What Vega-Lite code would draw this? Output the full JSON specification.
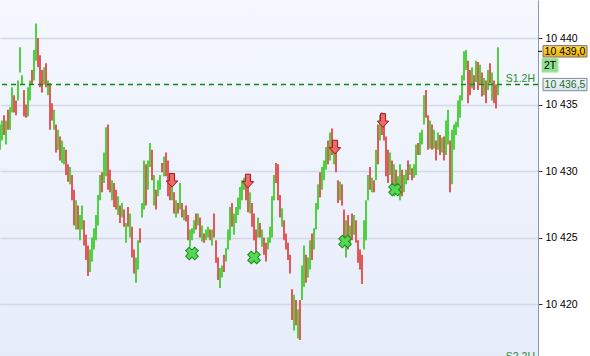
{
 "$schema": "https://vega.github.io/schema/vega-lite/v6.json",
 "width": 538,
 "height": 356,
 "autosize": {"type": "none"},
 "padding": {"left": 0, "top": 0, "right": 52, "bottom": 0},
 "background": "#ffffff",
 "config": {
  "view": {"stroke": null, "fill": {"gradient": "linear", "x1": 0, "y1": 0, "x2": 0, "y2": 1, "stops": [{"offset": 0, "color": "#f5f8fe"}, {"offset": 1, "color": "#e6ecfa"}]}},
  "font": "Liberation Sans"
 },
 "datasets": {
  "bars": [
{"t":0,"h":10433.5,"l":10431.6,"c":"u"},{"t":1,"h":10433.8,"l":10432.3,"c":"u"},{"t":2,"h":10434.2,"l":10432.7,"c":"d"},{"t":3,"h":10433.8,"l":10432.0,"c":"u"},{"t":4,"h":10434.6,"l":10433.1,"c":"d"},{"t":5,"h":10434.8,"l":10433.1,"c":"u"},{"t":6,"h":10436.3,"l":10434.4,"c":"u"},{"t":7,"h":10435.7,"l":10434.4,"c":"d"},{"t":8,"h":10435.3,"l":10434.2,"c":"d"},{"t":9,"h":10436.8,"l":10435.3,"c":"u"},
{"t":10,"h":10439.3,"l":10437.4,"c":"u"},{"t":11,"h":10437.2,"l":10436.5,"c":"u"},{"t":12,"h":10436.1,"l":10434.1,"c":"d"},{"t":13,"h":10435.0,"l":10434.0,"c":"d"},{"t":14,"h":10436.3,"l":10434.1,"c":"u"},{"t":15,"h":10436.8,"l":10435.3,"c":"u"},{"t":16,"h":10437.6,"l":10436.5,"c":"d"},{"t":17,"h":10439.1,"l":10436.8,"c":"u"},{"t":18,"h":10441.1,"l":10438.3,"c":"u"},{"t":19,"h":10440.0,"l":10437.8,"c":"d"},
{"t":20,"h":10438.7,"l":10436.3,"c":"d"},{"t":21,"h":10437.6,"l":10435.9,"c":"d"},{"t":22,"h":10437.8,"l":10436.5,"c":"u"},{"t":23,"h":10438.1,"l":10436.3,"c":"d"},{"t":24,"h":10436.8,"l":10435.7,"c":"u"},{"t":25,"h":10436.6,"l":10433.1,"c":"d"},{"t":26,"h":10435.1,"l":10433.8,"c":"d"},{"t":27,"h":10434.6,"l":10433.1,"c":"u"},{"t":28,"h":10433.5,"l":10431.4,"c":"d"},{"t":29,"h":10433.1,"l":10431.6,"c":"u"},
{"t":30,"h":10432.6,"l":10430.8,"c":"d"},{"t":31,"h":10432.3,"l":10430.6,"c":"u"},{"t":32,"h":10431.8,"l":10430.5,"c":"u"},{"t":33,"h":10431.6,"l":10429.7,"c":"d"},{"t":34,"h":10430.5,"l":10429.2,"c":"d"},{"t":35,"h":10430.3,"l":10429.0,"c":"u"},{"t":36,"h":10429.7,"l":10427.8,"c":"d"},{"t":37,"h":10428.6,"l":10425.9,"c":"d"},{"t":38,"h":10427.8,"l":10425.6,"c":"u"},{"t":39,"h":10427.4,"l":10425.6,"c":"d"},
{"t":40,"h":10426.7,"l":10424.8,"c":"u"},{"t":41,"h":10427.4,"l":10425.6,"c":"u"},{"t":42,"h":10426.3,"l":10424.4,"c":"d"},{"t":43,"h":10425.2,"l":10423.3,"c":"d"},{"t":44,"h":10424.4,"l":10422.1,"c":"d"},{"t":45,"h":10424.1,"l":10422.4,"c":"u"},{"t":46,"h":10425.0,"l":10423.2,"c":"u"},{"t":47,"h":10425.7,"l":10424.1,"c":"u"},{"t":48,"h":10426.7,"l":10424.8,"c":"u"},{"t":49,"h":10428.2,"l":10425.9,"c":"u"},
{"t":50,"h":10429.7,"l":10427.8,"c":"u"},{"t":51,"h":10429.9,"l":10428.4,"c":"d"},{"t":52,"h":10431.4,"l":10429.1,"c":"u"},{"t":53,"h":10433.3,"l":10429.6,"c":"u"},{"t":54,"h":10433.5,"l":10428.6,"c":"d"},{"t":55,"h":10430.1,"l":10428.4,"c":"d"},{"t":56,"h":10429.3,"l":10427.8,"c":"u"},{"t":57,"h":10429.1,"l":10427.3,"c":"d"},{"t":58,"h":10428.6,"l":10427.1,"c":"d"},{"t":59,"h":10428.1,"l":10426.7,"c":"u"},
{"t":60,"h":10427.4,"l":10426.1,"c":"d"},{"t":61,"h":10427.6,"l":10426.5,"c":"u"},{"t":62,"h":10427.1,"l":10425.8,"c":"d"},{"t":63,"h":10426.1,"l":10424.6,"c":"u"},{"t":64,"h":10427.3,"l":10425.8,"c":"d"},{"t":65,"h":10426.8,"l":10425.0,"c":"u"},{"t":66,"h":10425.8,"l":10423.5,"c":"d"},{"t":67,"h":10424.1,"l":10422.3,"c":"d"},{"t":68,"h":10423.5,"l":10421.6,"c":"u"},{"t":69,"h":10424.8,"l":10422.6,"c":"u"},
{"t":70,"h":10425.7,"l":10424.6,"c":"d"},{"t":71,"h":10427.6,"l":10426.5,"c":"u"},{"t":72,"h":10430.8,"l":10427.1,"c":"u"},{"t":73,"h":10430.5,"l":10427.4,"c":"d"},{"t":74,"h":10430.8,"l":10428.6,"c":"u"},{"t":75,"h":10432.1,"l":10430.3,"c":"u"},{"t":76,"h":10431.6,"l":10429.3,"c":"d"},{"t":77,"h":10429.7,"l":10427.4,"c":"u"},{"t":78,"h":10428.6,"l":10427.1,"c":"d"},{"t":79,"h":10429.3,"l":10428.1,"c":"u"},
{"t":80,"h":10429.7,"l":10428.6,"c":"u"},{"t":81,"h":10430.6,"l":10429.9,"c":"d"},{"t":82,"h":10431.1,"l":10429.6,"c":"u"},{"t":83,"h":10431.4,"l":10429.6,"c":"d"},{"t":84,"h":10430.8,"l":10428.1,"c":"d"},{"t":85,"h":10429.6,"l":10427.8,"c":"d"},{"t":86,"h":10429.1,"l":10427.8,"c":"u"},{"t":87,"h":10428.4,"l":10426.8,"c":"d"},{"t":88,"h":10427.8,"l":10426.5,"c":"u"},{"t":89,"h":10427.6,"l":10426.8,"c":"d"},
{"t":90,"h":10429.1,"l":10427.1,"c":"u"},{"t":91,"h":10427.6,"l":10426.5,"c":"d"},{"t":92,"h":10427.1,"l":10426.3,"c":"u"},{"t":93,"h":10427.4,"l":10426.2,"c":"d"},{"t":94,"h":10426.7,"l":10424.8,"c":"d"},{"t":95,"h":10425.6,"l":10424.3,"c":"u"},{"t":96,"h":10425.7,"l":10424.8,"c":"u"},{"t":97,"h":10426.3,"l":10425.3,"c":"u"},{"t":98,"h":10426.8,"l":10425.6,"c":"d"},{"t":99,"h":10426.8,"l":10425.9,"c":"u"},
{"t":100,"h":10426.5,"l":10425.0,"c":"d"},{"t":101,"h":10425.9,"l":10424.7,"c":"u"},{"t":102,"h":10425.3,"l":10424.6,"c":"d"},{"t":103,"h":10425.6,"l":10424.8,"c":"u"},{"t":104,"h":10425.8,"l":10425.0,"c":"u"},{"t":105,"h":10425.6,"l":10424.8,"c":"d"},{"t":106,"h":10425.6,"l":10424.4,"c":"u"},{"t":107,"h":10426.8,"l":10425.0,"c":"d"},{"t":108,"h":10424.8,"l":10423.1,"c":"d"},{"t":109,"h":10423.5,"l":10421.8,"c":"d"},
{"t":110,"h":10422.7,"l":10421.2,"c":"u"},{"t":111,"h":10422.9,"l":10422.0,"c":"u"},{"t":112,"h":10423.7,"l":10422.4,"c":"d"},{"t":113,"h":10424.2,"l":10423.2,"c":"u"},{"t":114,"h":10425.6,"l":10424.1,"c":"u"},{"t":115,"h":10427.3,"l":10424.8,"c":"u"},{"t":116,"h":10427.6,"l":10425.8,"c":"d"},{"t":117,"h":10426.8,"l":10425.2,"c":"u"},{"t":118,"h":10427.3,"l":10426.1,"c":"u"},{"t":119,"h":10428.0,"l":10426.7,"c":"u"},
{"t":120,"h":10428.8,"l":10427.1,"c":"u"},{"t":121,"h":10429.3,"l":10427.8,"c":"u"},{"t":122,"h":10429.5,"l":10428.6,"c":"u"},{"t":123,"h":10429.3,"l":10427.8,"c":"d"},{"t":124,"h":10429.0,"l":10426.9,"c":"d"},{"t":125,"h":10428.4,"l":10426.8,"c":"u"},{"t":126,"h":10427.6,"l":10425.8,"c":"d"},{"t":127,"h":10426.8,"l":10424.8,"c":"d"},{"t":128,"h":10425.6,"l":10423.8,"c":"d"},{"t":129,"h":10426.5,"l":10425.0,"c":"u"},
{"t":130,"h":10426.1,"l":10425.0,"c":"d"},{"t":131,"h":10425.6,"l":10424.3,"c":"u"},{"t":132,"h":10425.0,"l":10423.7,"c":"d"},{"t":133,"h":10424.6,"l":10423.2,"c":"d"},{"t":134,"h":10425.0,"l":10424.1,"c":"u"},{"t":135,"h":10425.8,"l":10424.6,"c":"u"},{"t":136,"h":10428.1,"l":10425.0,"c":"u"},{"t":137,"h":10429.7,"l":10427.8,"c":"u"},{"t":138,"h":10430.6,"l":10429.1,"c":"d"},{"t":139,"h":10430.5,"l":10427.8,"c":"d"},
{"t":140,"h":10428.2,"l":10426.5,"c":"d"},{"t":141,"h":10427.2,"l":10425.8,"c":"u"},{"t":142,"h":10426.3,"l":10424.8,"c":"d"},{"t":143,"h":10425.3,"l":10424.1,"c":"d"},{"t":144,"h":10424.6,"l":10423.3,"c":"d"},{"t":145,"h":10423.7,"l":10422.3,"c":"d"},{"t":146,"h":10421.1,"l":10418.8,"c":"d"},{"t":147,"h":10420.7,"l":10418.0,"c":"u"},{"t":148,"h":10420.3,"l":10418.4,"c":"d"},{"t":149,"h":10419.6,"l":10417.4,"c":"u"},
{"t":150,"h":10420.3,"l":10417.3,"c":"d"},{"t":151,"h":10422.9,"l":10420.3,"c":"u"},{"t":152,"h":10424.4,"l":10421.3,"c":"u"},{"t":153,"h":10423.7,"l":10421.6,"c":"d"},{"t":154,"h":10423.5,"l":10422.0,"c":"u"},{"t":155,"h":10424.8,"l":10422.6,"c":"u"},{"t":156,"h":10425.3,"l":10423.3,"c":"d"},{"t":157,"h":10425.7,"l":10424.1,"c":"u"},{"t":158,"h":10427.6,"l":10425.6,"c":"u"},{"t":159,"h":10429.0,"l":10427.1,"c":"u"},
{"t":160,"h":10429.9,"l":10428.0,"c":"d"},{"t":161,"h":10430.3,"l":10428.6,"c":"u"},{"t":162,"h":10430.8,"l":10429.3,"c":"u"},{"t":163,"h":10431.8,"l":10430.1,"c":"u"},{"t":164,"h":10432.3,"l":10430.5,"c":"d"},{"t":165,"h":10432.9,"l":10430.8,"c":"u"},{"t":166,"h":10433.2,"l":10431.2,"c":"d"},{"t":167,"h":10432.3,"l":10430.5,"c":"u"},{"t":168,"h":10431.7,"l":10429.9,"c":"d"},{"t":169,"h":10429.3,"l":10427.6,"c":"d"},
{"t":170,"h":10429.2,"l":10427.8,"c":"u"},{"t":171,"h":10429.0,"l":10427.4,"c":"d"},{"t":172,"h":10427.1,"l":10424.4,"c":"d"},{"t":173,"h":10426.3,"l":10423.5,"c":"u"},{"t":174,"h":10426.7,"l":10424.1,"c":"d"},{"t":175,"h":10425.9,"l":10424.4,"c":"u"},{"t":176,"h":10426.8,"l":10424.8,"c":"d"},{"t":177,"h":10426.7,"l":10425.2,"c":"u"},{"t":178,"h":10426.3,"l":10424.6,"c":"d"},{"t":179,"h":10424.8,"l":10423.1,"c":"d"},
{"t":180,"h":10424.1,"l":10422.6,"c":"d"},{"t":181,"h":10423.7,"l":10421.5,"c":"d"},{"t":182,"h":10426.3,"l":10424.1,"c":"u"},{"t":183,"h":10427.8,"l":10424.8,"c":"u"},{"t":184,"h":10429.7,"l":10427.8,"c":"u"},{"t":185,"h":10430.3,"l":10428.6,"c":"d"},{"t":186,"h":10429.5,"l":10428.4,"c":"u"},{"t":187,"h":10429.3,"l":10428.4,"c":"d"},{"t":188,"h":10431.6,"l":10429.3,"c":"u"},{"t":189,"h":10433.5,"l":10430.5,"c":"d"},
{"t":190,"h":10434.2,"l":10432.3,"c":"u"},{"t":191,"h":10434.4,"l":10432.7,"c":"d"},{"t":192,"h":10433.8,"l":10432.3,"c":"d"},{"t":193,"h":10432.6,"l":10429.6,"c":"d"},{"t":194,"h":10431.6,"l":10429.1,"c":"d"},{"t":195,"h":10431.4,"l":10429.7,"c":"u"},{"t":196,"h":10430.8,"l":10428.6,"c":"d"},{"t":197,"h":10430.5,"l":10428.1,"c":"u"},{"t":198,"h":10430.1,"l":10428.2,"c":"d"},{"t":199,"h":10429.6,"l":10428.6,"c":"u"},
{"t":200,"h":10430.5,"l":10427.8,"c":"u"},{"t":201,"h":10430.1,"l":10428.1,"c":"d"},{"t":202,"h":10429.7,"l":10428.4,"c":"u"},{"t":203,"h":10430.1,"l":10429.0,"c":"u"},{"t":204,"h":10430.8,"l":10429.3,"c":"d"},{"t":205,"h":10430.5,"l":10429.7,"c":"u"},{"t":206,"h":10430.2,"l":10429.3,"c":"d"},{"t":207,"h":10430.5,"l":10429.5,"c":"u"},{"t":208,"h":10432.0,"l":10429.7,"c":"u"},{"t":209,"h":10432.1,"l":10431.2,"c":"d"},
{"t":210,"h":10432.9,"l":10431.2,"c":"u"},{"t":211,"h":10433.1,"l":10432.0,"c":"u"},{"t":212,"h":10435.7,"l":10433.5,"c":"u"},{"t":213,"h":10436.1,"l":10434.0,"c":"d"},{"t":214,"h":10434.2,"l":10431.6,"c":"d"},{"t":215,"h":10433.8,"l":10431.7,"c":"u"},{"t":216,"h":10433.5,"l":10431.6,"c":"d"},{"t":217,"h":10433.1,"l":10431.7,"c":"u"},{"t":218,"h":10432.3,"l":10430.8,"c":"d"},{"t":219,"h":10432.9,"l":10431.6,"c":"u"},
{"t":220,"h":10432.7,"l":10431.2,"c":"d"},{"t":221,"h":10432.5,"l":10431.4,"c":"u"},{"t":222,"h":10432.6,"l":10430.8,"c":"d"},{"t":223,"h":10433.8,"l":10431.2,"c":"u"},{"t":224,"h":10434.6,"l":10432.0,"c":"u"},{"t":225,"h":10432.3,"l":10428.4,"c":"d"},{"t":226,"h":10433.1,"l":10429.0,"c":"u"},{"t":227,"h":10433.5,"l":10431.6,"c":"u"},{"t":228,"h":10433.7,"l":10432.7,"c":"u"},{"t":229,"h":10435.3,"l":10433.3,"c":"u"},
{"t":230,"h":10435.7,"l":10434.0,"c":"u"},{"t":231,"h":10437.2,"l":10435.3,"c":"u"},{"t":232,"h":10439.0,"l":10436.8,"c":"u"},{"t":233,"h":10439.1,"l":10437.6,"c":"u"},{"t":234,"h":10438.3,"l":10435.1,"c":"d"},{"t":235,"h":10437.6,"l":10435.7,"c":"d"},{"t":236,"h":10437.8,"l":10436.2,"c":"u"},{"t":237,"h":10437.2,"l":10436.1,"c":"d"},{"t":238,"h":10438.3,"l":10436.7,"c":"u"},{"t":239,"h":10438.2,"l":10436.1,"c":"d"},
{"t":240,"h":10438.0,"l":10436.5,"c":"u"},{"t":241,"h":10437.4,"l":10435.6,"c":"d"},{"t":242,"h":10437.0,"l":10435.7,"c":"u"},{"t":243,"h":10436.8,"l":10435.1,"c":"d"},{"t":244,"h":10437.6,"l":10436.1,"c":"u"},{"t":245,"h":10438.1,"l":10436.6,"c":"d"},{"t":246,"h":10437.4,"l":10435.3,"c":"u"},{"t":247,"h":10436.8,"l":10435.1,"c":"d"},{"t":248,"h":10436.5,"l":10434.7,"c":"d"},{"t":249,"h":10439.3,"l":10435.7,"c":"u"}
  ],
  "sig": [
   {"t": 86, "p": 10429.3, "k": "sell"},
   {"t": 124, "p": 10429.25, "k": "sell"},
   {"t": 167.5, "p": 10431.8, "k": "sell"},
   {"t": 191.5, "p": 10433.8, "k": "sell"},
   {"t": 96, "p": 10423.8, "k": "exit"},
   {"t": 127, "p": 10423.5, "k": "exit"},
   {"t": 172.5, "p": 10424.7, "k": "exit"},
   {"t": 197.5, "p": 10428.6, "k": "exit"}
  ],
  "lvl": [
   {"p": 10436.5, "name": "S1.2H"},
   {"p": 10415.6, "name": "S2.2H"}
  ],
  "tags": [
   {"txt": "10 439,0", "p": 10439.0, "k": "last"},
   {"txt": "2T", "p": 10437.95, "k": "tf"},
   {"txt": "10 436,5", "p": 10436.5, "k": "lvl"}
  ]
 },
 "layer": [
  {
   "data": {"name": "bars"},
   "mark": {"type": "rule", "strokeWidth": 2},
   "encoding": {
    "x": {"field": "t", "type": "quantitative", "scale": {"domain": [0, 269], "nice": false, "zero": false}, "axis": null},
    "y": {"field": "h", "type": "quantitative", "scale": {"domain": [10416.09, 10442.86], "nice": false, "zero": false},
     "axis": {"orient": "right", "values": [10420, 10425, 10430, 10435, 10440], "labelExpr": "replace(format(datum.value, ',d'), ',', ' ')", "grid": true, "gridColor": "#d3d8e5", "gridWidth": 1.5, "domain": true, "domainColor": "#8a97a6", "domainWidth": 1, "ticks": true, "tickColor": "#333333", "tickSize": 4, "tickWidth": 1, "labelColor": "#000000", "labelFontSize": 10.5, "labelFont": "Liberation Sans", "labelPadding": 3, "title": null}},
    "y2": {"field": "l"},
    "color": {"field": "c", "type": "nominal", "scale": {"domain": ["u", "d"], "range": ["#52cf42", "#e05a5a"]}, "legend": null}
   }
  },
  {
   "data": {"name": "lvl"},
   "mark": {"type": "rule", "color": "#0f8a0f", "strokeDash": [5, 4], "strokeWidth": 1.5, "clip": true},
   "encoding": {"y": {"field": "p", "type": "quantitative"}}
  },
  {
   "data": {"name": "lvl"},
   "mark": {"type": "text", "align": "right", "baseline": "bottom", "dy": -1, "color": "#2b8a2b", "fontSize": 10.5, "font": "Liberation Sans"},
   "encoding": {"x": {"datum": 267.5}, "y": {"field": "p", "type": "quantitative"}, "text": {"field": "name"}}
  },
  {
   "data": {"name": "sig"},
   "transform": [{"filter": "datum.k === 'sell'"}],
   "mark": {"type": "point", "filled": true, "opacity": 1, "size": 130, "shape": "M-0.45,-1.2 L0.45,-1.2 L0.45,0.1 L1,0.1 L0,1.2 L-1,0.1 L-0.45,0.1 Z", "fill": "#f06a6a", "stroke": "#a01818", "strokeWidth": 1},
   "encoding": {"x": {"field": "t", "type": "quantitative"}, "y": {"field": "p", "type": "quantitative"}}
  },
  {
   "data": {"name": "sig"},
   "transform": [{"filter": "datum.k === 'exit'"}],
   "mark": {"type": "point", "filled": true, "opacity": 1, "size": 160, "shape": "cross", "angle": 45, "fill": "#55d855", "stroke": "#1f8a1f", "strokeWidth": 1},
   "encoding": {"x": {"field": "t", "type": "quantitative"}, "y": {"field": "p", "type": "quantitative"}}
  },
  {
   "data": {"name": "tags"},
   "transform": [{"filter": "datum.k === 'last'"}],
   "mark": {"type": "point", "filled": true, "opacity": 1, "size": 1936, "shape": "M-1,-0.26 L1,-0.26 L1,0.26 L-1,0.26 Z", "fill": {"gradient": "linear", "x1": 0, "y1": 0, "x2": 0, "y2": 1, "stops": [{"offset": 0, "color": "#ffd94d"}, {"offset": 1, "color": "#efb000"}]}, "stroke": "#777777", "strokeWidth": 1},
   "encoding": {"x": {"datum": 282.5}, "y": {"field": "p", "type": "quantitative"}}
  },
  {
   "data": {"name": "tags"},
   "transform": [{"filter": "datum.k === 'last'"}],
   "mark": {"type": "point", "filled": false, "opacity": 1, "size": 16, "shape": "stroke", "stroke": "#000000", "strokeWidth": 1},
   "encoding": {"x": {"datum": 270}, "y": {"field": "p", "type": "quantitative"}}
  },
  {
   "data": {"name": "tags"},
   "transform": [{"filter": "datum.k === 'tf'"}],
   "mark": {"type": "point", "filled": true, "opacity": 1, "size": 256, "shape": "M-1,-0.85 L1,-0.85 L1,0.85 L-1,0.85 Z", "fill": "#8fdf8f", "stroke": "#a8e6a8", "strokeWidth": 1},
   "encoding": {"x": {"datum": 275}, "y": {"field": "p", "type": "quantitative"}}
  },
  {
   "data": {"name": "tags"},
   "transform": [{"filter": "datum.k === 'lvl'"}],
   "mark": {"type": "point", "filled": true, "opacity": 1, "size": 1936, "shape": "M-1,-0.28 L1,-0.28 L1,0.28 L-1,0.28 Z", "fill": {"gradient": "linear", "x1": 0, "y1": 0, "x2": 0, "y2": 1, "stops": [{"offset": 0, "color": "#f2f5fa"}, {"offset": 1, "color": "#d9e2ee"}]}, "stroke": "#7d8b99", "strokeWidth": 1},
   "encoding": {"x": {"datum": 282.5}, "y": {"field": "p", "type": "quantitative"}}
  },
  {
   "data": {"name": "tags"},
   "transform": [{"filter": "datum.k === 'last'"}],
   "mark": {"type": "text", "align": "center", "baseline": "middle", "fontSize": 10.5, "font": "Liberation Sans", "color": "#000000", "dy": 0.5},
   "encoding": {"x": {"datum": 282.5}, "y": {"field": "p", "type": "quantitative"}, "text": {"field": "txt"}}
  },
  {
   "data": {"name": "tags"},
   "transform": [{"filter": "datum.k === 'lvl'"}],
   "mark": {"type": "text", "align": "center", "baseline": "middle", "fontSize": 10.5, "font": "Liberation Sans", "color": "#1e6e1e", "dy": 0.5},
   "encoding": {"x": {"datum": 282.5}, "y": {"field": "p", "type": "quantitative"}, "text": {"field": "txt"}}
  },
  {
   "data": {"name": "tags"},
   "transform": [{"filter": "datum.k === 'tf'"}],
   "mark": {"type": "text", "align": "center", "baseline": "middle", "fontSize": 10.5, "font": "Liberation Sans", "color": "#000000", "dy": 0.5},
   "encoding": {"x": {"datum": 275}, "y": {"field": "p", "type": "quantitative"}, "text": {"field": "txt"}}
  }
 ]
}
